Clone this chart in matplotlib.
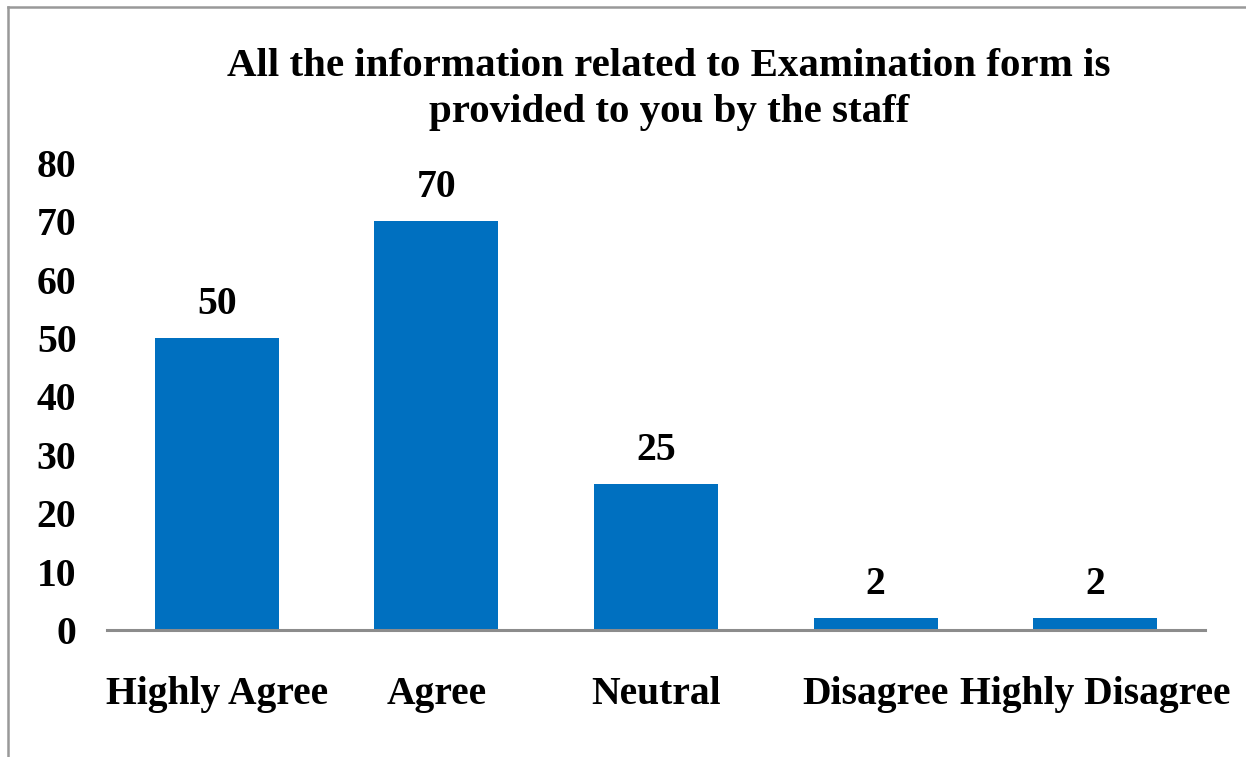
import matplotlib
matplotlib.use("Agg")
import matplotlib.pyplot as plt
from matplotlib.lines import Line2D

categories = ["Highly Agree", "Agree", "Neutral", "Disagree", "Highly Disagree"]
values = [50, 70, 25, 2, 2]
y_ticks = [0, 10, 20, 30, 40, 50, 60, 70, 80]
title = "All the information related to Examination form is\nprovided to you by the staff"

plt.rcParams["font.family"] = ["Liberation Serif", "DejaVu Serif"]
plt.rcParams["font.weight"] = "bold"

fig = plt.figure(figsize=(12.46, 7.57), dpi=100)
ax = fig.add_axes([0.0859, 0.1678, 0.8812, 0.6169])

x = range(len(categories))
ax.bar(x, values, width=0.565, color="#0070C0", zorder=2)
for xi, v in zip(x, values):
    ax.annotate(str(v), (xi, v), xytext=(0, 11), textcoords="offset points",
                ha="center", va="bottom", fontsize=28.5, fontweight="bold")

ax.set_xlim(-0.5, len(categories) - 0.5)
ax.set_ylim(0, 80)
ax.set_yticks(y_ticks)
ax.set_xticks(list(x))
ax.set_xticklabels(categories)
ax.tick_params(axis="both", length=0, labelsize=28.5)
ax.tick_params(axis="x", pad=33)
ax.tick_params(axis="y", pad=22)
for lbl in ax.get_xticklabels() + ax.get_yticklabels():
    lbl.set_fontweight("bold")

for side in ["top", "right", "left"]:
    ax.spines[side].set_visible(False)
ax.spines["bottom"].set_color("#8c8c8c")
ax.spines["bottom"].set_linewidth(2.2)
ax.spines["bottom"].set_zorder(3)

fig.text(0.537, 0.882, title, ha="center", va="center", fontsize=29.5,
         fontweight="bold", linespacing=1.34)

# chart frame (only top and left edges visible in the crop)
fig.add_artist(Line2D([0.0068, 0.0068], [0, 0.991], transform=fig.transFigure,
                      color="#999999", linewidth=1.8))
fig.add_artist(Line2D([0.0068, 1.0], [0.991, 0.991], transform=fig.transFigure,
                      color="#999999", linewidth=1.8))

fig.savefig("out.png", dpi=100)
